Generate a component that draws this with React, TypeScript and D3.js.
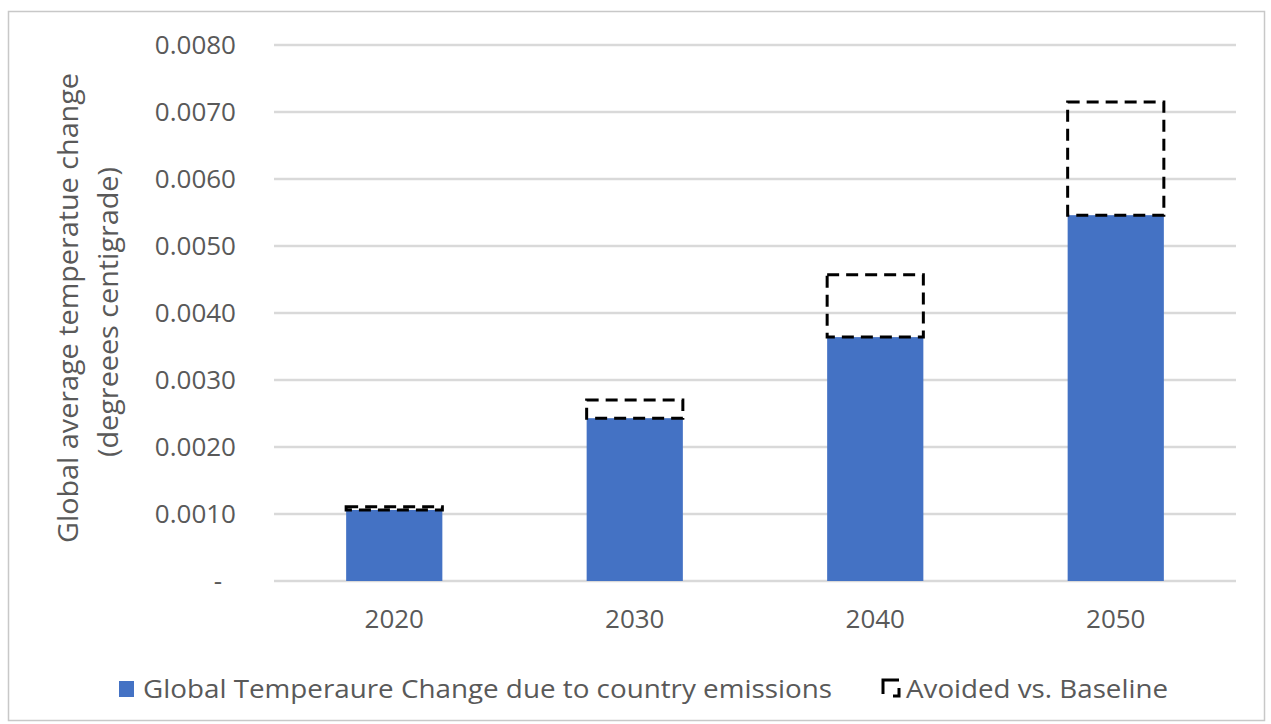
import React from "react";
import * as d3 from "d3";

const years = ["2020", "2030", "2040", "2050"];
const countryWarming = [0.00106, 0.00243, 0.00364, 0.00546];
const avoidedWarming = [0.00005, 0.00027, 0.00093, 0.00169];
const yTicks = [0, 0.001, 0.002, 0.003, 0.004, 0.005, 0.006, 0.007, 0.008];
const legendLabels = ["Global Temperaure Change due to country emissions", "Avoided vs. Baseline"];
const yTitleLines = ["Global average temperatue change", "(degreees centigrade)"];

const W = 1271;
const H = 724;
const plot = { left: 274, right: 1236, top: 45, bottom: 581 };
const FONT = "'Open Sans', 'Segoe UI', sans-serif";
const TEXT = "#595959";
const BLUE = "#4472c4";

export default function App() {
  const x = d3.scaleBand<string>().domain(years).range([plot.left, plot.right]).paddingInner(0.6).paddingOuter(0.3);
  const y = d3.scaleLinear().domain([0, 0.008]).range([plot.bottom, plot.top]);
  const fmt = (v: number) => (v === 0 ? "-" : d3.format(".4f")(v));
  const bw = x.bandwidth();

  return (
    <svg width={W} height={H} style={{ position: "absolute", left: 0, top: 0, background: "#fff" }}>
      <rect x={8.5} y={11.5} width={1256} height={709} fill="#fff" stroke="#c8c8c8" strokeWidth={1.5} />

      {yTicks.map((t) => (
        <g key={t}>
          <line x1={plot.left} x2={plot.right} y1={y(t)} y2={y(t)} stroke="#d9d9d9" strokeWidth={2.5} />
          {/* accounting-style zero: the dash sits left of the digit column */}
          <text x={t === 0 ? 222 : 236} y={y(t)} dy="0.35em" textAnchor="end" fontFamily={FONT} fontSize={26} fill={TEXT}>
            {fmt(t)}
          </text>
        </g>
      ))}

      {years.map((yr, i) => {
        const x0 = x(yr)!;
        const base = countryWarming[i];
        const top = base + avoidedWarming[i];
        return (
          <g key={yr}>
            <rect x={x0} y={y(base)} width={bw} height={y(0) - y(base)} fill={BLUE} />
            <rect
              x={x0}
              y={y(top)}
              width={bw}
              height={y(base) - y(top)}
              fill="none"
              stroke="#000"
              strokeWidth={3}
              strokeDasharray="12,7"
            />
            <text x={x0 + bw / 2} y={619} dy="0.35em" textAnchor="middle" fontFamily={FONT} fontSize={26} fill={TEXT}>
              {yr}
            </text>
          </g>
        );
      })}

      <g transform="translate(69,308) rotate(-90)">
        <text textAnchor="middle" dy="0.35em" fontFamily={FONT} fontSize={27} fill={TEXT} textLength={470} lengthAdjust="spacingAndGlyphs">
          {yTitleLines[0]}
        </text>
      </g>
      <g transform="translate(109,312) rotate(-90)">
        <text textAnchor="middle" dy="0.35em" fontFamily={FONT} fontSize={27} fill={TEXT} textLength={290} lengthAdjust="spacingAndGlyphs">
          {yTitleLines[1]}
        </text>
      </g>

      <g fontFamily={FONT} fontSize={26} fill={TEXT}>
        <rect x={119} y={681} width={15} height={16} fill={BLUE} />
        <text x={143} y={689} dy="0.35em" textLength={689} lengthAdjust="spacingAndGlyphs">
          {legendLabels[0]}
        </text>
        <path d="M883,694 V680 H899" fill="none" stroke="#000" strokeWidth={3} />
        <path d="M899,688 V696 H893" fill="none" stroke="#000" strokeWidth={3} />
        <text x={906} y={689} dy="0.35em" textLength={262} lengthAdjust="spacingAndGlyphs">
          {legendLabels[1]}
        </text>
      </g>
    </svg>
  );
}
